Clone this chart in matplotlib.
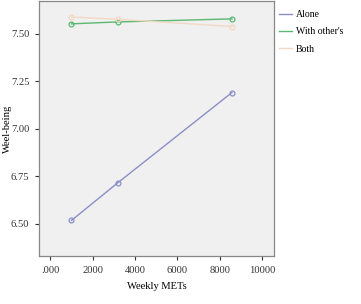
import matplotlib
matplotlib.use("Agg")
import matplotlib.pyplot as plt
from matplotlib.lines import Line2D

plt.rcParams['font.family'] = ['Liberation Serif', 'DejaVu Serif']

weekly_mets = [1000, 3180, 8580]
alone = [6.518, 6.715, 7.190]
with_others = [7.551, 7.561, 7.577]
both = [7.587, 7.575, 7.537]
series_names = ["Alone", "With other's", "Both"]
xticks = [0, 2000, 4000, 6000, 8000, 10000]
xticklabels = [".000", "2000", "4000", "6000", "8000", "10000"]
yticks = [6.50, 6.75, 7.00, 7.25, 7.50]

colors = ["#8c8fc6", "#5cb870", "#f3d9c4"]

fig = plt.figure(figsize=(3.61, 3.04), dpi=100)
ax = fig.add_axes([39/361, 48/304, 235/361, 255/304])
ax.set_facecolor("#f0f0f0")

for vals, c, name in zip([alone, with_others, both], colors, series_names):
    ax.plot(weekly_mets, vals, color=c, lw=1.0, marker="o", ms=3.5,
            mfc="none", mec=c, mew=0.9, label=name)

ax.set_xlim(-534, 10567)
ax.set_ylim(6.331, 7.671)
ax.set_xticks(xticks)
ax.set_xticklabels(xticklabels)
ax.set_yticks(yticks)
ax.set_yticklabels([f"{v:.2f}" for v in yticks])
ax.tick_params(labelsize=7.6, length=3, width=0.8, colors="#333333", pad=4)
ax.set_xlabel("Weekly METs", fontsize=7.6, labelpad=5)
ax.set_ylabel("Weel-being", fontsize=7.6)
ax.yaxis.set_label_coords(-0.113, 0.5)
for s in ax.spines.values():
    s.set_color("#888888")
    s.set_linewidth(0.9)

handles = [Line2D([0], [0], color=c, lw=1.0) for c in colors]
fig.legend(handles, series_names, loc="upper left",
           bbox_to_anchor=(279/361, 1 - 10/304),
           frameon=False, fontsize=7, handlelength=1.35, handletextpad=0.4,
           labelspacing=0.85, borderaxespad=0, borderpad=0)

fig.savefig("out.png", dpi=100)
